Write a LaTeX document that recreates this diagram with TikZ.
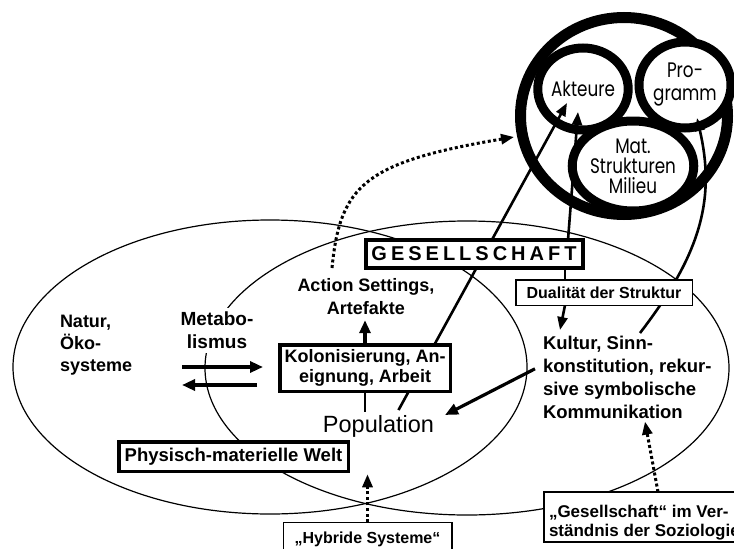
\documentclass[tikz,border=0pt]{standalone}
\usepackage{fontspec}
\setmainfont{Liberation Sans}
\newfontfamily\gothic[FakeStretch=0.8]{Poppins}
\usetikzlibrary{arrows.meta,shapes.geometric}
\pgfdeclarelayer{fg}
\pgfsetlayers{main,fg}
\newcommand\fsz[2]{\fontsize{#1}{#2}\selectfont}

\begin{document}
\begin{tikzpicture}[x=1pt,y=-1pt,
  every node/.style={inner sep=0pt, outer sep=0pt},
  lbl/.style={font=\bfseries\fsz{18}{23}},
  thickbox/.style={draw, fill=white, line width=3.5pt, align=center,
    font=\bfseries\fsz{18}{20.5}},
  thinbox/.style={draw, fill=white, line width=1.5pt,
    font=\bfseries\fsz{16}{19}},
  ring/.style={ellipse, draw, fill=white, line width=11pt},
  cell/.style={ellipse, draw, fill=white, line width=9pt, align=center,
    font=\gothic\fsz{21}{23}},
  field/.style={line width=1.2pt},
  arr/.style={line width=3.2pt, -{Triangle[length=13pt,width=11pt]}},
  conn/.style={line width=2.6pt},
  thinarr/.style={line width=2.6pt, -{Triangle[length=13pt,width=10pt]}},
  dots/.style={line width=3pt, dash pattern=on 3pt off 2.6pt,
    -{Triangle[length=13pt,width=10pt]}}]

\useasboundingbox[fill=white] (0,0) rectangle (734,549);

% the two overlapping fields
\draw[field] (270,367) ellipse [x radius=257pt, y radius=147pt];
\draw[field] (467,368) ellipse [x radius=262pt, y radius=147pt];

% society as a ring of three components
\node[ring, minimum width=207pt, minimum height=197pt] (ring) at (624,116) {};
\node[cell, minimum width=88pt, minimum height=82pt] (akteure) at (583,89) {Akteure};
\node[cell, minimum width=92pt, minimum height=86pt] (programm) at (685,85) {Pro-\\gramm};
\node[cell, minimum width=88pt, minimum height=90pt, font=\gothic\fsz{21}{20}] (milieu) at (633,166) {Mat.\\Strukturen\\Milieu};

% boxed labels sit above the connectors
\begin{pgfonlayer}{fg}
\node[draw, fill=white, line width=4pt, minimum width=217pt, minimum height=28pt,
  font=\bfseries\fsz{20}{20}\addfontfeatures{LetterSpace=20}] (gesell) at (474,254) {GESELLSCHAFT};
\node[thinbox, minimum width=176.5pt, minimum height=25.5pt] (dual) at (604,292.5) {Dualität der Struktur};
\node[thickbox, minimum width=170.5pt, minimum height=46.5pt] (kolon) at (365,368) {Kolonisierung, An-\\eignung, Arbeit};
\node[thickbox, minimum width=229.5pt, minimum height=29.5pt, font=\bfseries\fsz{18.5}{20}] (phys) at (233.5,456.5) {Physisch-materielle Welt};
\node[thinbox, anchor=north west, align=left, inner xsep=5.25pt, inner ysep=2pt,
  font=\bfseries\fsz{17}{19.5}] (gesbox) at (543.75,492) {\rule{0pt}{23pt}„Gesellschaft“ im Ver-\\ständnis der Soziologie};
\node[thinbox, minimum width=168.5pt, minimum height=34.5pt] (hybr) at (367.5,539.5) {„Hybride Systeme“};
\node[lbl, font=\bfseries\fsz{19}{23}, fill=white, inner sep=4pt, align=center, anchor=north] (metab) at (217,308) {Metabo-\\lismus};
\end{pgfonlayer}

% free labels
\node[lbl, font=\bfseries\fsz{18}{22}, align=left, anchor=north west] (natur) at (60,315) {Natur,\\Öko-\\systeme};
\node[lbl, align=center, anchor=north] (action) at (366,278) {Action Settings,\\Artefakte};
\node[lbl, font=\bfseries\fsz{18.5}{23}, align=left, anchor=north west] (kultur) at (543,336) {Kultur, Sinn-\\konstitution, rekur-\\sive symbolische\\Kommunikation};
\node[font=\fsz{23.5}{23.5}, inner sep=3pt] (pop) at (378.5,426) {Population};

% end points
\coordinate (m1) at (182,367);
\coordinate (m2) at (263,367);
\coordinate (m3) at (257,385);
\coordinate (m4) at (182,385);
\coordinate (akt1) at (567,103);
\coordinate (akt2) at (578,112);
\coordinate (prg) at (697,118);
\coordinate (ringtip) at (514,137);

% metabolism
\draw[arr] (m1) -- (m2);
\draw[arr] (m3) -- (m4);

% connectors
\draw[conn] (kolon.south) -- (kolon.south |- pop.north);
\draw[arr] (kolon.north) -- ([yshift=-6pt]kolon.north |- action.south);
\draw[thinarr] ([xshift=20pt,yshift=2pt]pop.north) -- (akt1);
\draw[thinarr] ([xshift=94pt]gesell.north) -- (akt2);
\draw[conn] ([xshift=-39pt]dual.north) -- ([xshift=-39pt]dual.north |- gesell.south);
\draw[thinarr] ([xshift=-39pt]dual.south) -- ([xshift=17pt,yshift=6pt]kultur.north west);
\draw[arr] ([xshift=-8pt,yshift=8.5pt]kultur.west) -- ([xshift=8pt,yshift=11pt]pop.east);
\draw[thinarr] ([xshift=97pt,yshift=3pt]kultur.north west)
  .. controls (700,255) and (716,200) .. (prg);

% dotted references
\draw[dots] ([xshift=-34pt,yshift=10pt]action.north)
  .. controls (340,185) and (365,162) .. (ringtip);
\draw[dots] ([xshift=114.25pt]gesbox.north west) -- ([xshift=102pt,yshift=-3pt]kultur.south west);
\draw[dots] (hybr.north) -- ([yshift=48pt]hybr.north);
\end{tikzpicture}
\end{document}
